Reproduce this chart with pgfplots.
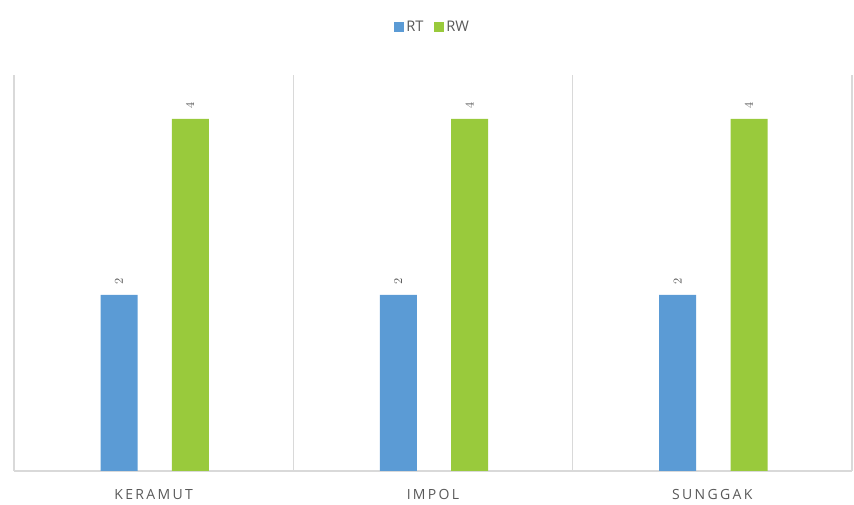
\documentclass[border=0pt]{standalone}
\usepackage{fontspec}
\setmainfont{Open Sans}
\usepackage{pgfplots}
\pgfplotsset{compat=1.18}

\definecolor{rtblue}{HTML}{5B9BD5}
\definecolor{rwgreen}{HTML}{99CA3C}
\definecolor{gridgray}{HTML}{D9D9D9}
\definecolor{txtgray}{HTML}{595959}

\begin{document}
\begin{tikzpicture}
% page = 854 x 505 px, 1px = 0.75pt
\useasboundingbox (0,0) rectangle (640.5pt,378.75pt);
\begin{axis}[
    at={(10.5pt,25.5pt)}, anchor=south west,
    scale only axis,
    width=628.5pt, height=297pt,
    xmin=-0.5, xmax=2.5,
    ymin=0, ymax=4.5,
    axis line style={draw=none},
    ytick=\empty,
    xtick={0,1,2},
    xticklabels={K\,E\,R\,A\,M\,U\,T, I\,M\,P\,O\,L, S\,U\,N\,G\,G\,A\,K},
    major tick length=0pt, minor tick length=0pt,
    xticklabel style={font=\fontsize{10.5}{12}\selectfont, text=txtgray, yshift=-10pt},
    minor xtick={-0.5,0.5,1.5,2.5},
    xminorgrids,
    minor x grid style={gridgray, line width=0.8pt},
    extra y ticks={0},
    extra y tick labels={},
    extra y tick style={ymajorgrids, major grid style={gridgray, line width=0.8pt}},
    ybar, bar width=27.75pt,
    nodes near coords,
    every node near coord/.append style={rotate=90, anchor=west, font=\fontsize{9}{10}\selectfont, text=txtgray, xshift=4pt},
    legend style={at={(0.5,1)}, yshift=27pt, anchor=south, draw=none, legend columns=-1,
        font=\fontsize{11}{13}\selectfont, text=txtgray,
        /tikz/every even column/.append style={column sep=6pt}},
    legend image code/.code={\fill[#1] (0pt,-3.5pt) rectangle (7pt,3.5pt);},
    clip=false,
]
\addplot[fill=rtblue, draw=none, bar shift=-26pt] coordinates {(0,2) (1,2) (2,2)};
\addplot[fill=rwgreen, draw=none, bar shift=27.5pt] coordinates {(0,4) (1,4) (2,4)};
\legend{RT, RW}
\end{axis}
\end{tikzpicture}
\end{document}
